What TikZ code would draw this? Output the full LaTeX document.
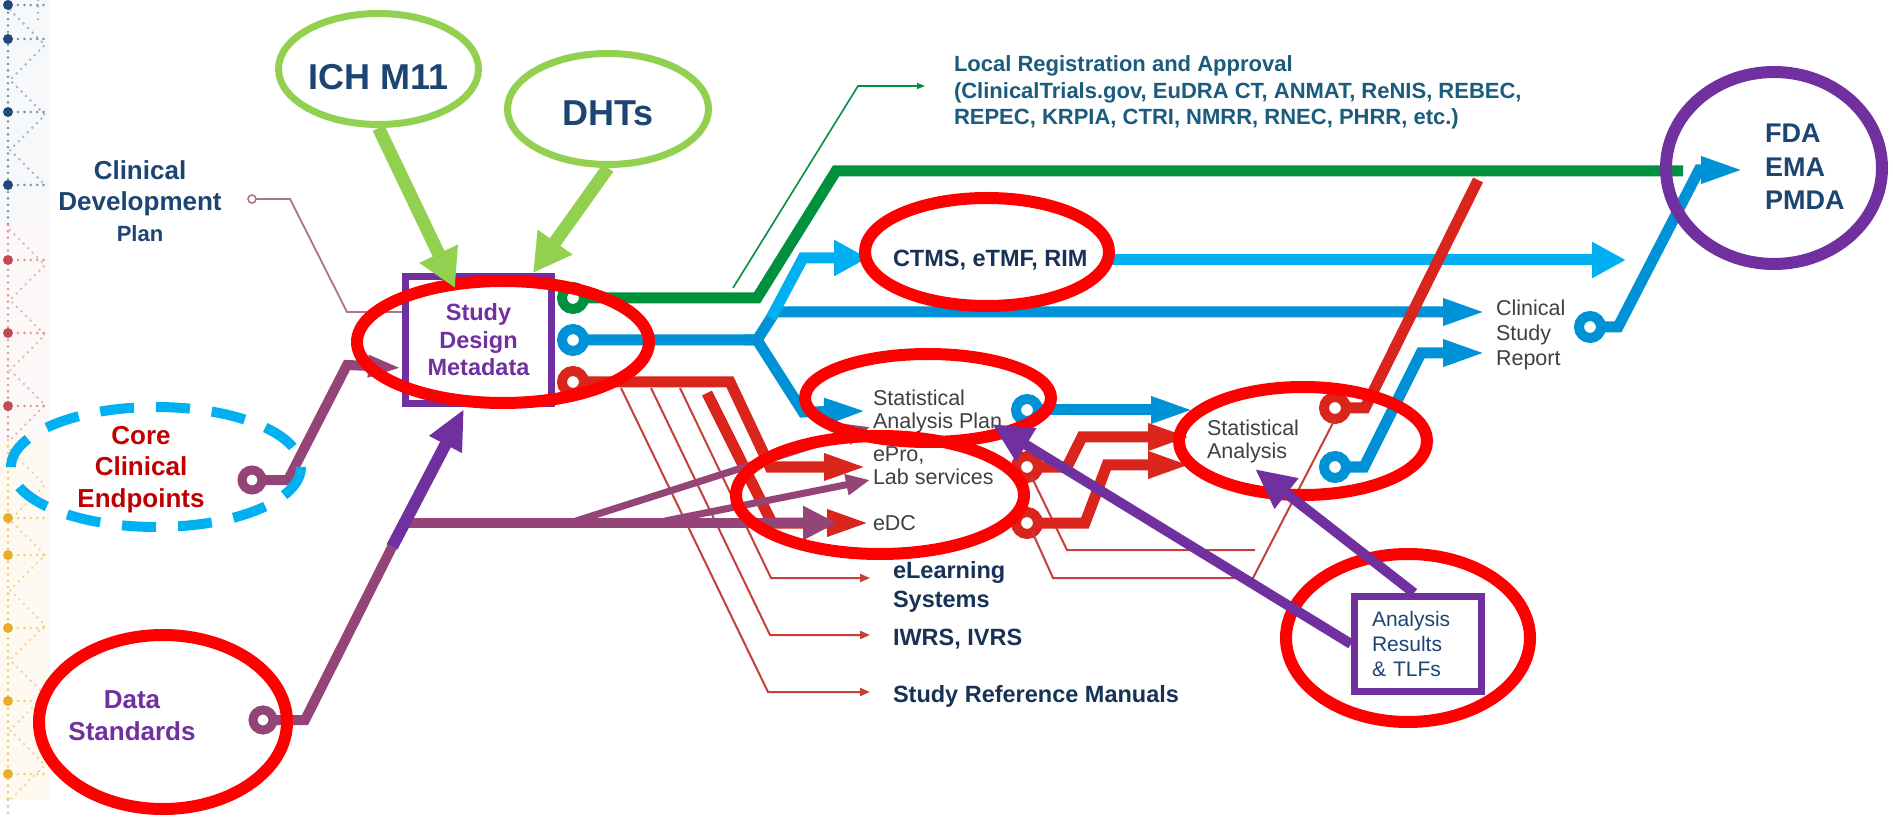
\documentclass[tikz,border=0pt]{standalone}
\usepackage{fontspec}
\setmainfont{Liberation Sans}
\usetikzlibrary{arrows.meta,shapes.geometric}
\definecolor{navy}{RGB}{28,69,115}
\definecolor{navytwo}{RGB}{22,50,85}
\definecolor{tealblue}{RGB}{27,92,125}
\definecolor{graytxt}{RGB}{64,64,64}
\definecolor{darkred}{RGB}{192,0,0}
\definecolor{purp}{RGB}{112,48,160}
\definecolor{mauve}{RGB}{149,68,119}
\definecolor{cdpcol}{RGB}{176,112,150}
\definecolor{lgreen}{RGB}{146,208,80}
\definecolor{gmetro}{RGB}{0,145,63}
\definecolor{bmetro}{RGB}{0,146,214}
\definecolor{lblue}{RGB}{0,176,240}
\definecolor{rmetro}{RGB}{218,37,29}
\definecolor{tred}{RGB}{196,64,56}
\definecolor{hlred}{RGB}{255,0,0}
\definecolor{stripblue}{RGB}{31,73,125}
\definecolor{stripred}{RGB}{196,74,86}
\definecolor{stripgold}{RGB}{232,172,40}
\begin{document}
\begin{tikzpicture}[x=0.5pt,y=-0.5pt,
  metro/.style={line width=5.5pt, line join=miter},
  mtip/.style={-{Triangle[length=22pt,width=12pt]}},
  wtip/.style={-{Triangle[length=17pt,width=17pt]}},
  ring/.style={circle, draw=#1, line width=5pt, fill=white, minimum size=11pt, inner sep=0pt, outer sep=0pt},
  thinred/.style={draw=tred, line width=1pt, -{Triangle[length=5pt,width=4pt]}},
  hl/.style={draw=hlred, line width=6pt},
  mline/.style={draw=mauve, line width=5pt, line join=miter},
  mthin/.style={draw=mauve, line width=3.5pt, -{Triangle[length=12pt,width=10pt]}},
  parrow/.style={draw=purp, line width=5pt, -{Triangle[length=20pt,width=18pt]}},
  garrow/.style={draw=lgreen, line width=6.5pt, -{Triangle[length=19pt,width=20pt]}},
  lbl/.style={inner sep=0pt, outer sep=0pt},
  dotline/.style={line cap=round, line width=1.4pt, dash pattern=on 0pt off 3.2pt}
]
\useasboundingbox (0,0) rectangle (1893,817);
\fill[white] (0,0) rectangle (1893,817);

% ---------- left decorative strip ----------
\fill[stripblue!4] (0,0) rectangle (50,225);
\fill[stripred!4] (0,225) rectangle (50,440);
\fill[stripgold!6] (0,440) rectangle (50,800);
\draw[dotline, stripblue!60] (8,0) -- (8,225);
\draw[dotline, stripred!60] (8,225) -- (8,440);
\draw[dotline, stripgold!70] (8,440) -- (8,800);
\draw[dotline, stripblue!30] (8,800) -- (8,817);
\draw[dotline, stripblue!40] (10,10) -- (45,45) -- (10,80) -- (45,115) -- (10,150) -- (45,185);
\draw[dotline, stripred!40] (10,230) -- (45,265) -- (10,300) -- (45,335) -- (10,370) -- (45,405) -- (10,440);
\draw[dotline, stripgold!50] (10,450) -- (45,485) -- (10,520) -- (45,555) -- (10,590) -- (45,625) -- (10,660) -- (45,695) -- (10,730) -- (45,765) -- (10,800);
\draw[dotline, stripblue!40] (38,0) -- (38,20);
\foreach \yy/\cc in {5/stripblue,39/stripblue,112/stripblue,185/stripblue,260/stripred,333/stripred,406/stripred,518/stripgold,555/stripgold,628/stripgold,701/stripgold,774/stripgold}{
  \fill[\cc] (8,\yy) circle[radius=5];
  \draw[dotline, \cc!60] (18,\yy) -- (46,\yy);
}

% ---------- named coordinates ----------
\coordinate (gend) at (1683,171);
\coordinate (lraOut) at (733,288);
\coordinate (lraIn) at (925,86);
\coordinate (ctmsIn) at (868,258);
\coordinate (ctmsOut) at (1105,260);
\coordinate (rimEnd) at (1626,260);
\coordinate (csrIn) at (1487,312);
\coordinate (bsplit) at (757,340);
\coordinate (lbsplit) at (771,318);
\coordinate (sapIn) at (868,411);
\coordinate (saIn1) at (1195,410);
\coordinate (eproIn) at (868,467);
\coordinate (redStart) at (707,393);
\coordinate (edcIn) at (871,523);
\coordinate (saIn2) at (1192,437);
\coordinate (saIn3) at (1192,465);
\coordinate (redTop) at (1478,180);
\coordinate (csrIn2) at (1487,353);
\coordinate (fdaIn) at (1745,170);
\coordinate (tA) at (621,388);
\coordinate (tB) at (651,388);
\coordinate (tC) at (680,388);
\coordinate (srmIn) at (870,692);
\coordinate (iwrsIn) at (870,635);
\coordinate (elIn) at (870,578);
\coordinate (eproLow) at (1255,550);
\coordinate (mSplit) at (404,523);
\coordinate (mEdcIn) at (837,523);
\coordinate (mB1) at (576,521);
\coordinate (mB2) at (665,521);
\coordinate (mSapIn) at (870,427);
\coordinate (mLabIn) at (870,480);
\coordinate (dsMid) at (392,547);
\coordinate (dsTip) at (464,409);
\coordinate (cceTip) at (402,368);
\coordinate (cdpEnd) at (402,312);
\coordinate (arSap) at (992,424);
\coordinate (arSa) at (1255,469);
\coordinate (ichTip) at (455,288);
\coordinate (dhtTip) at (533,273);

% ---------- stations (rings) ----------
\node[ring=gmetro] (rg) at (573,298) {};
\node[ring=bmetro] (rb) at (573,340) {};
\node[ring=rmetro] (rr) at (573,382) {};
\node[ring=bmetro] (rsap) at (1027,410) {};
\node[ring=rmetro] (repro) at (1027,467) {};
\node[ring=rmetro] (redc) at (1027,523) {};
\node[ring=rmetro] (rsar) at (1335,408) {};
\node[ring=bmetro] (rsab) at (1335,467) {};
\node[ring=bmetro] (rcsr) at (1590,327) {};
\node[ring=mauve, line width=4.5pt, minimum size=10pt] (rcce) at (252,480) {};
\node[ring=mauve, line width=4.5pt, minimum size=10pt] (rds) at (263,720) {};
\node[circle, draw=cdpcol, line width=0.8pt, fill=white, minimum size=4pt, inner sep=0pt, outer sep=0pt] (rcdp) at (252,199) {};

% ---------- thin lines ----------
\draw[draw=cdpcol, line width=0.9pt] (rcdp.east) -- (290,199) -- (347,312) -- (cdpEnd);
\draw[draw=gmetro, line width=0.8pt, -{Triangle[length=4pt,width=3pt]}] (lraOut) -- (858,86) -- (lraIn);
\draw[thinred] (tA) -- (768,692) -- (srmIn);
\draw[thinred] (tB) -- (770,635) -- (iwrsIn);
\draw[thinred] (tC) -- (771,578) -- (elIn);
\draw[draw=tred, line width=1pt] (repro.-65) -- (1067,550) -- (eproLow);
\draw[draw=tred, line width=1pt] (redc.-60) -- (1053,578) -- (1253,578) -- (rsar.south);

% ---------- metro lines ----------
\draw[metro, draw=gmetro] (rg.east) -- (757,298) -- (836,171) -- (gend);
\draw[metro, draw=bmetro, mtip] (rb.east) -- (bsplit) -- (775,312) -- (csrIn);
\draw[metro, draw=bmetro, mtip] (745,340) -- (bsplit) -- (803,412) -- (sapIn);
\draw[metro, draw=lblue, wtip] (lbsplit) -- (803,258) -- (ctmsIn);
\draw[metro, draw=lblue, wtip] (ctmsOut) -- (rimEnd);
\draw[metro, draw=bmetro, mtip] (rsap.east) -- (saIn1);
\draw[metro, draw=bmetro, mtip] (rsab.east) -- (1364,467) -- (1421,353) -- (csrIn2);
\draw[metro, draw=bmetro, mtip] (rcsr.east) -- (1618,327) -- (1699,170) -- (fdaIn);
\draw[metro, draw=rmetro, mtip] (rr.east) -- (730,382) -- (770,467) -- (eproIn);
\draw[metro, draw=rmetro, mtip] (redStart) -- (772,523) -- (edcIn);
\draw[metro, draw=rmetro, mtip] (repro.east) -- (1067,467) -- (1082,437) -- (saIn2);
\draw[metro, draw=rmetro, mtip] (redc.east) -- (1085,523) -- (1107,465) -- (saIn3);
\draw[metro, draw=rmetro] (rsar.east) -- (1365,408) -- (redTop);

% ---------- mauve lines ----------
\draw[mline] (rcce.east) -- (288,480) -- (347,365) -- (370,366);
\draw[draw=mauve, line width=5pt, -{Triangle[length=17pt,width=10pt]}] (365,366) -- (cceTip);
\draw[mline] (rds.east) -- (305,720) -- (dsMid);
\draw[mline, -{Triangle[length=17pt,width=16pt]}] (mSplit) -- (mEdcIn);
\draw[mthin] (mB1) -- (mSapIn);
\draw[mthin] (mB2) -- (mLabIn);

% ---------- dashed ellipse ----------
\draw[draw=lblue, line width=5pt, dash pattern=on 17pt off 11pt] (156,467) ellipse [x radius=145, y radius=60];

% ---------- texts ----------
\node[lbl, anchor=north, align=center, text=navy, font=\bfseries\fontsize{13}{15.5}\selectfont] (cdp) at (140,161) {Clinical\\Development\\{\fontsize{11}{13}\selectfont Plan}};
\node[lbl, anchor=north, align=center, text=darkred, font=\bfseries\fontsize{13}{15.75}\selectfont] (cce) at (141,426) {Core\\Clinical\\Endpoints};
\node[lbl, anchor=north, align=center, text=purp, font=\bfseries\fontsize{13}{16}\selectfont] (ds) at (132,691) {Data\\Standards};

\node[ellipse, draw=lgreen, line width=3.5pt, minimum width=100pt, minimum height=55.5pt, inner sep=0pt, text=navy, font=\bfseries\fontsize{18}{20}\selectfont, text height=20.4pt, text depth=0pt] (ich) at (378.5,69) {ICH M11};
\node[ellipse, draw=lgreen, line width=3.5pt, minimum width=100.5pt, minimum height=55.5pt, inner sep=0pt, text=navy, font=\bfseries\fontsize{18}{20}\selectfont, text height=16.9pt, text depth=0pt] (dht) at (608,109) {DHTs};

\node[draw=purp, fill=white, line width=3.5pt, minimum width=73pt, minimum height=63.5pt, inner sep=0pt, align=center, text=purp, font=\bfseries\fontsize{11.75}{13.75}\selectfont] (sdm) at (478.5,340) {Study\\Design\\Metadata};

\node[lbl, anchor=north west, align=left, text=tealblue, font=\bfseries\fontsize{11}{13.25}\selectfont] (lra) at (954,56) {Local Registration and Approval\\(ClinicalTrials.gov, EuDRA CT, ANMAT, ReNIS, REBEC,\\REPEC, KRPIA, CTRI, NMRR, RNEC, PHRR, etc.)};

\node[lbl, anchor=base west, text=navytwo, font=\bfseries\fontsize{11.75}{14}\selectfont] (ctms) at (893,267) {CTMS, eTMF, RIM};
\node[lbl, anchor=north west, align=left, text=graytxt, font=\fontsize{10.75}{11.5}\selectfont] (sap) at (873,389.6) {Statistical\\Analysis Plan};
\node[lbl, anchor=north west, align=left, text=graytxt, font=\fontsize{10.75}{11.5}\selectfont] (epro) at (873,446.6) {ePro,\\Lab services};
\node[lbl, anchor=base west, text=graytxt, font=\fontsize{10.75}{11.5}\selectfont] (edc) at (873,530) {eDC};
\node[lbl, anchor=north west, align=left, text=navytwo, font=\bfseries\fontsize{11.75}{14.5}\selectfont] (elearn) at (893,561.2) {eLearning\\Systems};
\node[lbl, anchor=base west, text=navytwo, font=\bfseries\fontsize{11.75}{14}\selectfont] (iwrs) at (893,645) {IWRS, IVRS};
\node[lbl, anchor=base west, text=navytwo, font=\bfseries\fontsize{11.75}{14}\selectfont] (srm) at (893,702) {Study Reference Manuals};
\node[lbl, anchor=north west, align=left, text=graytxt, font=\fontsize{10.75}{11.5}\selectfont] (sa) at (1207,419.6) {Statistical\\Analysis};
\node[lbl, anchor=north west, align=left, text=graytxt, font=\fontsize{10.75}{12.5}\selectfont] (csr) at (1496,299.6) {Clinical\\Study\\Report};
\node[lbl, anchor=north west, align=left, text=navy, font=\bfseries\fontsize{13.5}{16.75}\selectfont] (fda) at (1765,124) {FDA\\EMA\\PMDA};

\node[draw=purp, fill=white, line width=3.5pt, minimum width=63.5pt, minimum height=47.5pt, inner sep=0pt, text width=46pt, align=left, text=navy, font=\fontsize{10.5}{12.5}\selectfont] (ar) at (1418,644) {Analysis\\Results\\\& TLFs};

% ---------- highlight ellipses ----------
\draw[hl] (503,342) ellipse [x radius=146, y radius=61];
\draw[hl] (987,252) ellipse [x radius=122, y radius=54];
\draw[hl] (928,398) ellipse [x radius=123, y radius=44];
\draw[hl] (880,495) ellipse [x radius=144, y radius=59];
\draw[hl] (1303,441) ellipse [x radius=124, y radius=54];
\draw[hl] (1408,638) ellipse [x radius=122, y radius=84];
\draw[hl] (163,722) ellipse [x radius=124, y radius=87];
\draw[draw=purp, line width=6pt] (1774,168) ellipse [x radius=108, y radius=96];

% ---------- arrows on top ----------
\draw[draw=purp, line width=6pt, -{Triangle[length=20pt,width=17pt]}] (dsMid) -- (dsTip);
\draw[parrow] (ar.west) -- (arSap);
\draw[parrow] ([xshift=-2pt]ar.north) -- (arSa);
\draw[garrow] (ich.south) -- (ichTip);
\draw[garrow] (dht.south) -- (dhtTip);
\end{tikzpicture}
\end{document}
